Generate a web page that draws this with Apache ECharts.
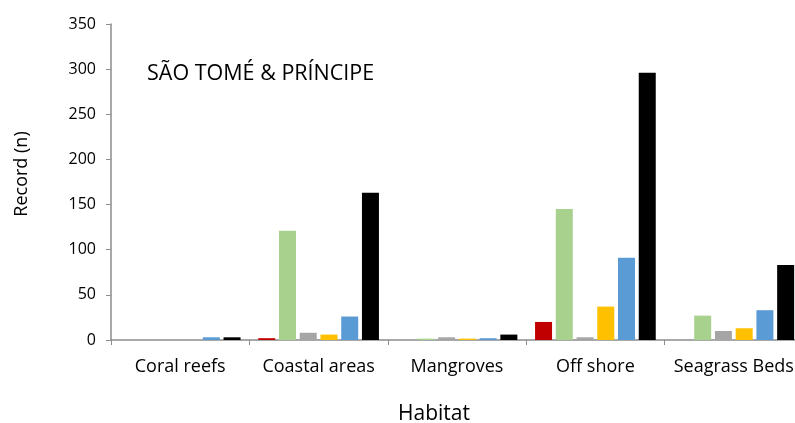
<!DOCTYPE html>
<html>
<head>
<meta charset="utf-8">
<script src="https://cdn.jsdelivr.net/npm/echarts@6/dist/echarts.min.js"></script>
<style>html,body{margin:0;padding:0;background:#fff;}#c{width:795px;height:423px;}</style>
</head>
<body>
<div id="c"></div>
<script>
var categories = ['Coral reefs', 'Coastal areas', 'Mangroves', 'Off shore', 'Seagrass Beds'];
var seriesRed    = [0, 2, 0, 20, 0];
var seriesGreen  = [0, 121, 1.5, 145, 27];
var seriesGray   = [0, 8, 3, 3, 10];
var seriesYellow = [0, 6, 1.5, 37, 13];
var seriesBlue   = [3, 26, 2, 91, 33];
var seriesBlack  = [3, 163, 6, 296, 83];
var yTicks = [0, 50, 100, 150, 200, 250, 300, 350];

var FONT = 'Open Sans';
var colors = ['#C00000', '#A9D18E', '#A5A5A5', '#FFC000', '#5B9BD5', '#000000'];
var data = [seriesRed, seriesGreen, seriesGray, seriesYellow, seriesBlue, seriesBlack];
var chart = echarts.init(document.getElementById('c'));
var series = data.map(function (d, i) {
  return {
    type: 'bar', data: d, barWidth: 17, barGap: '22%',
    itemStyle: { color: colors[i], borderWidth: 0 },
    animation: false
  };
});
chart.setOption({
  animation: false,
  grid: { left: 111, top: 24, width: 692, height: 316, outerBoundsMode: 'none', containLabel: false },
  graphic: [{
    type: 'text', left: 147, top: 63,
    style: { text: 'SÃO TOMÉ & PRÍNCIPE', font: '21.5px "' + FONT + '"', fill: '#000' }
  }],
  xAxis: {
    type: 'category', data: categories,
    name: 'Habitat', nameLocation: 'middle', nameGap: 64,
    nameTextStyle: { fontFamily: FONT, fontSize: 21, color: '#000', padding: [0, 46, 0, 0] },
    axisLine: { lineStyle: { color: '#8c8c8c', width: 1.5 } },
    axisTick: { show: true, length: 5, lineStyle: { color: '#8c8c8c' } },
    axisLabel: { fontFamily: FONT, fontSize: 18, color: '#000', margin: 18, interval: 0 }
  },
  yAxis: {
    type: 'value', min: 0, max: 350, interval: 50,
    name: 'Record (n)', nameLocation: 'middle', nameGap: 80, nameRotate: 90,
    nameTextStyle: { fontFamily: FONT, fontSize: 18, color: '#000', padding: [0, 0, 0, 16] },
    axisLine: { show: true, lineStyle: { color: '#8c8c8c', width: 1.5 } },
    axisTick: { show: true, length: 5, lineStyle: { color: '#8c8c8c' } },
    splitLine: { show: false },
    axisLabel: { fontFamily: FONT, fontSize: 16, color: '#000', margin: 15,
      formatter: function (v) { return yTicks.indexOf(v) >= 0 ? String(v) : ''; } }
  },
  series: series
});
</script>
</body>
</html>
